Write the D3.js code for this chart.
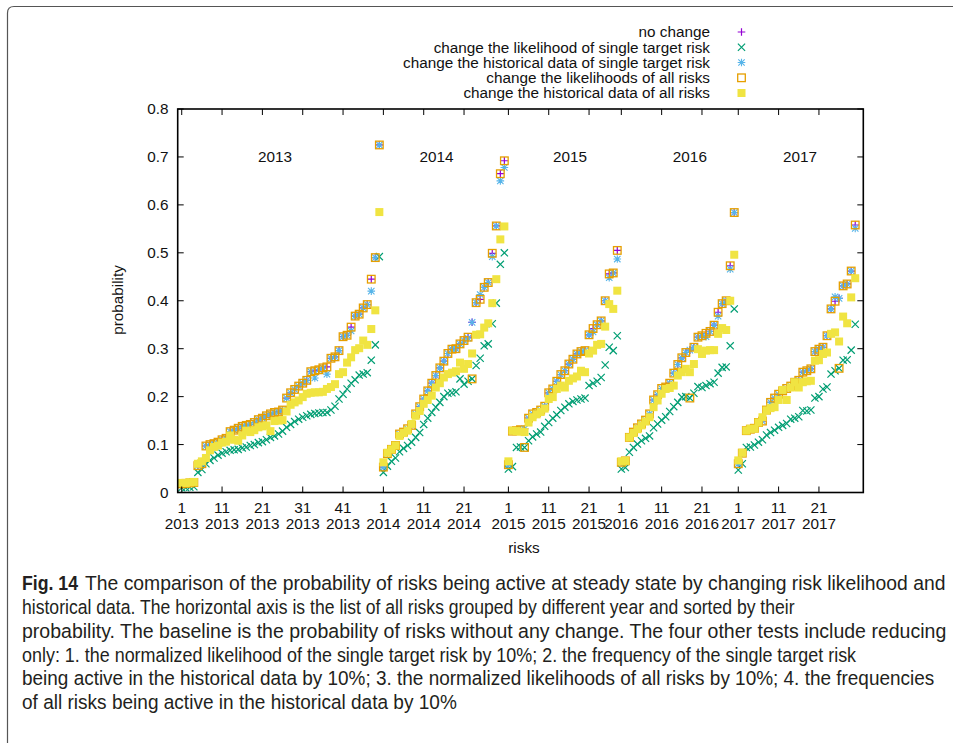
<!DOCTYPE html>
<html><head><meta charset="utf-8">
<script src="https://cdn.jsdelivr.net/npm/d3@7"></script>
<style>body{margin:0;background:#fff;} svg{display:block;}</style>
</head><body><svg id="c" width="953" height="743"></svg>
<script>
// ---------- data ----------
const years = ["2013","2014","2015","2016","2017"];
const yearSizes = [50,31,28,29,30];
const yearLabelX = [24.1, 64.2, 97.3, 127.0, 154.3]; // label anchor in risk-index units
const seriesNames = [
  "no change",
  "change the likelihood of single target risk",
  "change the historical data of single target risk",
  "change the likelihoods of all risks",
  "change the historical data of all risks"
];
const tickIndex = [1,11,21,31,41,51,61,71,82,92,102,110,120,130,139,149,159];
const tickRank  = ["1","11","21","31","41","1","11","21","1","11","21","1","11","21","1","11","21"];
const tickYear  = ["2013","2013","2013","2013","2013","2014","2014","2014","2015","2015","2015","2016","2016","2016","2017","2017","2017"];
const yTicks = [0,0.1,0.2,0.3,0.4,0.5,0.6,0.7,0.8];
const yTickLabels = ["0","0.1","0.2","0.3","0.4","0.5","0.6","0.7","0.8"];

const noChange = [
 // 2013
 0.018,0.019,0.020,0.021,0.056,0.060,0.097,0.100,0.102,0.105,0.110,0.113,0.127,0.130,0.134,0.138,0.140,0.142,0.146,0.152,
 0.155,0.160,0.164,0.167,0.168,0.172,0.197,0.208,0.215,0.222,0.228,0.234,0.252,0.254,0.256,0.260,0.262,0.280,0.283,0.296,
 0.325,0.328,0.345,0.368,0.372,0.385,0.392,0.445,0.490,0.725,
 // 2014
 0.053,0.081,0.090,0.098,0.122,0.126,0.133,0.140,0.164,0.179,0.195,0.212,0.228,0.244,0.260,0.274,0.290,0.299,0.300,0.310,
 0.317,0.324,0.355,0.396,0.403,0.428,0.438,0.499,0.556,0.665,0.692,
 // 2015
 0.058,0.128,0.129,0.131,0.133,0.155,0.164,0.167,0.172,0.180,0.208,0.216,0.232,0.246,0.254,0.268,0.278,0.289,0.294,0.296,
 0.329,0.342,0.350,0.358,0.400,0.456,0.458,0.505,
 // 2016
 0.063,0.066,0.115,0.126,0.135,0.143,0.151,0.164,0.193,0.204,0.217,0.220,0.228,0.249,0.267,0.281,0.292,0.297,0.303,0.324,
 0.327,0.332,0.336,0.349,0.376,0.394,0.400,0.473,0.584,
 // 2017
 0.060,0.082,0.129,0.132,0.134,0.146,0.149,0.172,0.188,0.197,0.205,0.212,0.217,0.222,0.230,0.234,0.251,0.254,0.258,0.294,
 0.299,0.303,0.327,0.383,0.399,0.405,0.431,0.435,0.462,0.558
];
const likelihoodSingle = [
 // 2013
 0.010,0.010,0.011,0.012,0.042,0.048,0.060,0.067,0.072,0.078,0.082,0.085,0.088,0.089,0.090,0.093,0.095,0.098,0.100,0.104,
 0.106,0.110,0.115,0.118,0.122,0.128,0.136,0.142,0.148,0.153,0.157,0.160,0.163,0.165,0.166,0.167,0.167,0.172,0.180,0.195,
 0.205,0.216,0.228,0.235,0.245,0.247,0.250,0.276,0.308,0.492,
 // 2014
 0.042,0.055,0.065,0.072,0.085,0.092,0.098,0.105,0.115,0.125,0.142,0.155,0.167,0.178,0.188,0.200,0.207,0.208,0.210,0.237,
 0.226,0.232,0.237,0.265,0.280,0.306,0.310,0.352,0.395,0.476,0.500,
 // 2015
 0.049,0.054,0.094,0.095,0.094,0.108,0.116,0.122,0.126,0.138,0.146,0.155,0.162,0.171,0.178,0.185,0.190,0.193,0.195,0.197,
 0.223,0.228,0.232,0.240,0.266,0.303,0.296,0.327,
 // 2016
 0.049,0.052,0.084,0.094,0.101,0.108,0.113,0.118,0.135,0.143,0.151,0.158,0.169,0.179,0.188,0.199,0.200,0.197,0.207,0.221,
 0.219,0.223,0.227,0.230,0.249,0.261,0.262,0.306,0.383,
 // 2017
 0.047,0.060,0.094,0.095,0.099,0.105,0.110,0.120,0.125,0.130,0.136,0.140,0.144,0.153,0.155,0.158,0.171,0.170,0.172,0.197,
 0.200,0.216,0.220,0.247,0.254,0.259,0.276,0.277,0.297,0.351
];
const historySingle = [
 // 2013
 0.018,0.019,0.020,0.021,0.056,0.060,0.097,0.100,0.102,0.105,0.110,0.113,0.127,0.130,0.134,0.138,0.140,0.142,0.146,0.152,
 0.155,0.160,0.164,0.167,0.168,0.172,0.197,0.208,0.215,0.222,0.228,0.234,0.252,0.239,0.256,0.260,0.247,0.280,0.283,0.296,
 0.325,0.328,0.337,0.368,0.372,0.385,0.392,0.420,0.490,0.725,
 // 2014
 0.053,0.081,0.090,0.098,0.122,0.126,0.133,0.140,0.164,0.179,0.195,0.212,0.228,0.244,0.260,0.274,0.290,0.299,0.300,0.310,
 0.317,0.322,0.355,0.396,0.413,0.428,0.438,0.492,0.556,0.650,0.678,
 // 2015
 0.058,0.128,0.129,0.131,0.133,0.155,0.164,0.167,0.172,0.180,0.208,0.216,0.232,0.246,0.254,0.268,0.278,0.289,0.294,0.296,
 0.329,0.335,0.350,0.358,0.400,0.448,0.458,0.487,
 // 2016
 0.063,0.066,0.115,0.126,0.135,0.143,0.151,0.164,0.193,0.204,0.217,0.220,0.228,0.249,0.267,0.281,0.292,0.297,0.303,0.324,
 0.327,0.325,0.336,0.349,0.368,0.394,0.400,0.466,0.584,
 // 2017
 0.060,0.082,0.129,0.132,0.134,0.146,0.149,0.172,0.188,0.197,0.205,0.212,0.217,0.222,0.230,0.234,0.251,0.254,0.258,0.294,
 0.299,0.303,0.327,0.383,0.408,0.405,0.431,0.435,0.462,0.551
];
const likelihoodAll = [
 // 2013
 0.018,0.019,0.020,0.021,0.056,0.060,0.097,0.100,0.102,0.105,0.110,0.113,0.127,0.130,0.134,0.138,0.140,0.142,0.146,0.152,
 0.155,0.160,0.164,0.167,0.168,0.172,0.197,0.208,0.215,0.222,0.228,0.234,0.252,0.254,0.256,0.260,0.262,0.280,0.283,0.296,
 0.325,0.328,0.345,0.368,0.372,0.385,0.392,0.445,0.490,0.725,
 // 2014
 0.053,0.081,0.090,0.098,0.122,0.126,0.133,0.140,0.164,0.179,0.195,0.212,0.228,0.244,0.260,0.274,0.290,0.299,0.300,0.310,
 0.317,0.324,0.237,0.396,0.403,0.428,0.438,0.499,0.556,0.665,0.692,
 // 2015
 0.058,0.128,0.129,0.131,0.094,0.155,0.164,0.167,0.172,0.180,0.208,0.216,0.232,0.246,0.254,0.268,0.278,0.289,0.294,0.296,
 0.329,0.342,0.350,0.358,0.400,0.456,0.458,0.505,
 // 2016
 0.063,0.066,0.115,0.126,0.135,0.143,0.151,0.164,0.193,0.204,0.217,0.220,0.228,0.249,0.267,0.281,0.292,0.197,0.303,0.324,
 0.327,0.332,0.336,0.349,0.376,0.394,0.400,0.473,0.584,
 // 2017
 0.060,0.082,0.129,0.132,0.134,0.146,0.149,0.172,0.188,0.197,0.205,0.212,0.217,0.222,0.230,0.234,0.251,0.254,0.258,0.294,
 0.299,0.303,0.327,0.383,0.399,0.259,0.431,0.435,0.462,0.558
];
const historyAll = [
 // 2013
 0.020,0.020,0.021,0.022,0.060,0.065,0.072,0.088,0.095,0.098,0.104,0.106,0.119,0.110,0.108,0.119,0.129,0.126,0.130,0.136,
 0.138,0.140,0.128,0.149,0.150,0.151,0.169,0.183,0.188,0.192,0.199,0.206,0.208,0.209,0.209,0.210,0.216,0.220,0.226,0.247,
 0.251,0.271,0.282,0.297,0.301,0.317,0.308,0.341,0.380,0.585,
 // 2014
 0.063,0.083,0.090,0.098,0.118,0.124,0.129,0.143,0.160,0.170,0.185,0.193,0.202,0.219,0.228,0.240,0.247,0.250,0.253,0.271,
 0.258,0.268,0.290,0.329,0.330,0.344,0.353,0.395,0.445,0.528,0.555,
 // 2015
 0.065,0.129,0.128,0.127,0.126,0.146,0.157,0.163,0.168,0.175,0.195,0.199,0.216,0.223,0.219,0.233,0.238,0.242,0.254,0.251,
 0.290,0.296,0.308,0.310,0.346,0.393,0.383,0.421,
 // 2016
 0.065,0.066,0.115,0.124,0.132,0.140,0.148,0.157,0.178,0.192,0.206,0.216,0.218,0.223,0.244,0.251,0.258,0.251,0.268,0.299,
 0.289,0.296,0.297,0.297,0.331,0.343,0.339,0.400,0.496,
 // 2017
 0.067,0.083,0.129,0.133,0.133,0.146,0.157,0.171,0.176,0.178,0.193,0.214,0.193,0.219,0.230,0.219,0.230,0.232,0.233,0.275,
 0.276,0.289,0.292,0.331,0.334,0.315,0.367,0.353,0.407,0.447
];
const captionLines = [
 "historical data. The horizontal axis is the list of all risks grouped by different year and sorted by their",
 "probability. The baseline is the probability of risks without any change. The four other tests include reducing",
 "only: 1. the normalized likelihood of the single target risk by 10%; 2. the frequency of the single target risk",
 "being active in the historical data by 10%; 3. the normalized likelihoods of all risks by 10%; 4. the frequencies",
 "of all risks being active in the historical data by 10%"
];

// ---------- drawing ----------
const svg = d3.select("#c");
const font = "'Liberation Sans', Arial, Helvetica, sans-serif";
const L = 177.7, R = 863.3, T = 109, B = 492.5;
const x = d3.scaleLinear().domain([0,170]).range([L,R]);
const y = d3.scaleLinear().domain([0,0.8]).range([B,T]);

// outer frame of the figure
svg.append("path")
  .attr("d", "M953,6.5 H14 Q7.5,6.5 7.5,13 V743")
  .attr("fill","none").attr("stroke","#555").attr("stroke-width",1.2);

const colors = ["#9400d3","#009e73","#56b4e9","#e69f00","#f0e442"];
const series = [noChange, likelihoodSingle, historySingle, likelihoodAll, historyAll];

function drawMarker(g, k, cx, cy) {
  const c = colors[k];
  if (k === 0) {
    g.append("path").attr("d", `M${cx-3.8},${cy}H${cx+3.8}M${cx},${cy-3.8}V${cy+3.8}`)
      .attr("stroke", c).attr("stroke-width", 1.2).attr("fill","none");
  } else if (k === 1) {
    g.append("path").attr("d", `M${cx-3.6},${cy-3.6}L${cx+3.6},${cy+3.6}M${cx-3.6},${cy+3.6}L${cx+3.6},${cy-3.6}`)
      .attr("stroke", c).attr("stroke-width", 1.2).attr("fill","none");
  } else if (k === 2) {
    g.append("path").attr("d", `M${cx-3.8},${cy}H${cx+3.8}M${cx},${cy-3.8}V${cy+3.8}M${cx-3.2},${cy-3.2}L${cx+3.2},${cy+3.2}M${cx-3.2},${cy+3.2}L${cx+3.2},${cy-3.2}`)
      .attr("stroke", c).attr("stroke-width", 1.1).attr("fill","none");
  } else if (k === 3) {
    g.append("rect").attr("x", cx-3.8).attr("y", cy-3.8).attr("width",7.6).attr("height",7.6)
      .attr("fill","none").attr("stroke", c).attr("stroke-width",1.3);
  } else {
    g.append("rect").attr("x", cx-4).attr("y", cy-4).attr("width",8).attr("height",8)
      .attr("fill", c);
  }
}

// points
const pts = svg.append("g");
series.forEach((vals, k) => {
  const g = pts.append("g");
  vals.forEach((v, i) => drawMarker(g, k, x(i+1), y(v)));
});

// frame & ticks
const ax = svg.append("g").attr("stroke","#000");
yTicks.forEach(t => {
  ax.append("line").attr("x1",L).attr("x2",L+6).attr("y1",y(t)).attr("y2",y(t)).attr("stroke-width",1);
  ax.append("line").attr("x1",R).attr("x2",R-6).attr("y1",y(t)).attr("y2",y(t)).attr("stroke-width",1);
});
tickIndex.forEach(t => {
  ax.append("line").attr("x1",x(t)).attr("x2",x(t)).attr("y1",B).attr("y2",B-6).attr("stroke-width",1);
  ax.append("line").attr("x1",x(t)).attr("x2",x(t)).attr("y1",T).attr("y2",T+6).attr("stroke-width",1);
});
ax.append("rect").attr("x",L).attr("y",T).attr("width",R-L).attr("height",B-T)
  .attr("fill","none").attr("stroke-width",1.6);

const txt = svg.append("g").attr("font-family", font).attr("font-size", 15.3).attr("fill","#111");
yTicks.forEach((t,i) => {
  txt.append("text").attr("x", 168.5).attr("y", y(t)+5.4).attr("text-anchor","end").text(yTickLabels[i]);
});
tickIndex.forEach((t,i) => {
  txt.append("text").attr("x", x(t)).attr("y", 513).attr("text-anchor","middle").text(tickRank[i]);
  txt.append("text").attr("x", x(t)).attr("y", 528.5).attr("text-anchor","middle").text(tickYear[i]);
});
years.forEach((yr,i) => {
  txt.append("text").attr("x", x(yearLabelX[i])).attr("y", y(0.7)+5.4).attr("text-anchor","middle").text(yr);
});
txt.append("text").attr("x", 524).attr("y", 553).attr("text-anchor","middle").text("risks");
txt.append("text").attr("transform","translate(123,300) rotate(-90)").attr("text-anchor","middle").text("probability");

// legend
const legY = [32, 47.3, 62.5, 77.8, 93];
seriesNames.forEach((n,k) => {
  txt.append("text").attr("x", 710).attr("y", legY[k]+5.3).attr("text-anchor","end").text(n);
  drawMarker(svg.append("g"), k, 741.5, legY[k]);
});

// caption (condensed by horizontal scaling to the reference line widths)
const cap = svg.append("g").attr("font-family", "'Liberation Sans Narrow','Liberation Sans',Arial,sans-serif")
  .attr("font-size", 19.5).attr("fill","#231f20");
function capLine(str, x0, x1, yb, bold) {
  const t = cap.append("text").attr("x",0).attr("y",0).text(str);
  if (bold) t.attr("font-weight","bold");
  const w = t.node().getComputedTextLength();
  t.attr("transform", `translate(${x0},${yb}) scale(${(x1-x0)/w},1)`);
}
capLine("Fig. 14", 22, 78, 590, true);
capLine("The comparison of the probability of risks being active at steady state by changing risk likelihood and", 85, 946, 590, false);
const capEnds = [795, 947, 857, 935, 457];
captionLines.forEach((s,i) => capLine(s, 22, capEnds[i], 614 + i*23.8, false));
</script></body></html>
